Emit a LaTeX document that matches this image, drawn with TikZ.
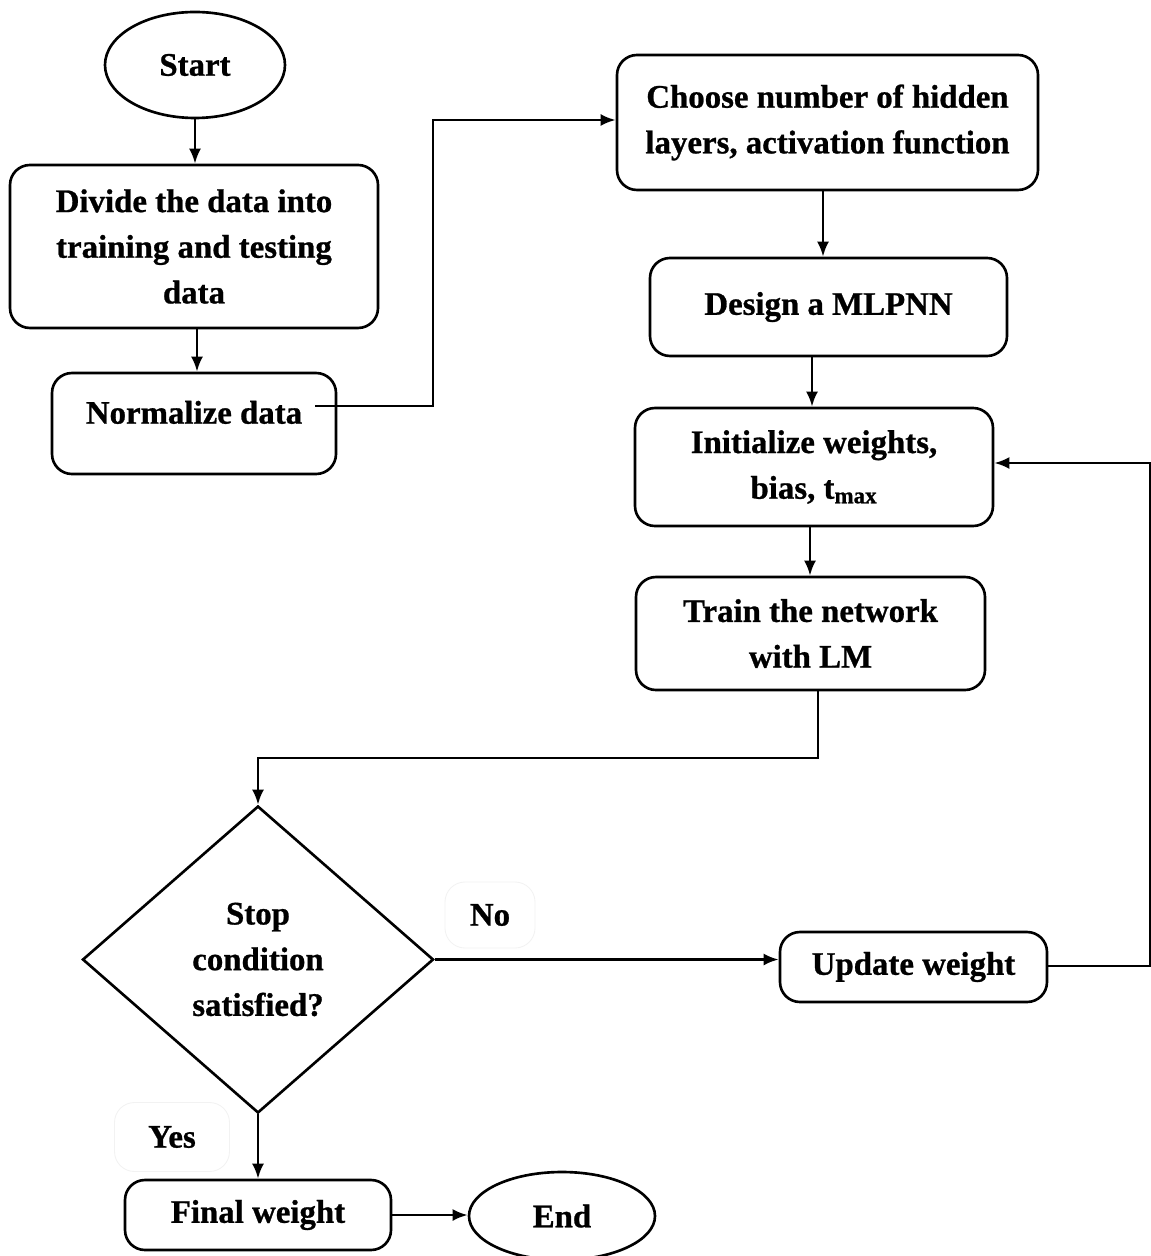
\documentclass[tikz,border=0pt]{standalone}
\usepackage{fontspec}
\setmainfont[BoldFeatures={FakeBold=0.8}]{Liberation Serif}
\usetikzlibrary{shapes.geometric,arrows.meta}
\begin{document}
\begin{tikzpicture}[x=0.02cm,y=-0.02cm,
  every node/.style={font=\fontsize{18.7}{26}\selectfont\bfseries, align=center, inner sep=0pt},
  box/.style={draw, line width=1.5pt, rounded corners=0.4cm},
  oval/.style={draw, line width=1.5pt, ellipse},
  dia/.style={draw, line width=1.5pt, diamond, aspect=1.14},
  lbl/.style={draw=black!5, line width=0.5pt, rounded corners=0.4cm},
  arr/.style={line width=1.5pt, -{Latex[length=0.3cm,width=0.24cm]}},
  ln/.style={line width=1.5pt}]
\useasboundingbox (0,0) rectangle (1151,1256);
\node[oval, minimum width=180*0.02cm, minimum height=106*0.02cm] (start) at (195,65) {Start};
\node[box, minimum width=368*0.02cm, minimum height=163*0.02cm] (divide) at (194,246.5) {Divide the data into\\training and testing\\data};
\node[box, minimum width=284*0.02cm, minimum height=101*0.02cm, text depth=0.45cm] (norm) at (194,423.5) {Normalize data};
\node[box, minimum width=421*0.02cm, minimum height=135*0.02cm] (choose) at (827.5,122.5) {Choose number of hidden\\layers, activation function};
\node[box, minimum width=357*0.02cm, minimum height=98*0.02cm] (design) at (828.5,307) {Design a MLPNN};
\node[box, minimum width=358*0.02cm, minimum height=118*0.02cm] (init) at (814,467) {Initialize weights,\\bias, t\textsubscript{max}};
\node[box, minimum width=349*0.02cm, minimum height=113*0.02cm] (train) at (810.5,633.5) {Train the network\\with LM};
\node[dia, minimum width=351*0.02cm, minimum height=307*0.02cm] (cond) at (258,959.5) {};
\node (condtext) at (258,959.5) {Stop\\condition\\satisfied?};
\node[box, minimum width=267*0.02cm, minimum height=70*0.02cm] (update) at (913.5,967) {Update weight};
\node[box, minimum width=266*0.02cm, minimum height=70*0.02cm] (final) at (258,1215) {Final weight};
\node[oval, minimum width=186*0.02cm, minimum height=88*0.02cm] (end) at (562,1216) {End};
\node[lbl, minimum width=90*0.02cm, minimum height=66*0.02cm] (no) at (490,915) {No};
\node[lbl, minimum width=115*0.02cm, minimum height=69*0.02cm] (yes) at (172,1137) {Yes};
\coordinate (nstart) at (315,406);
\coordinate (c1) at (433,406);
\coordinate (c2) at (433,120);
\coordinate (t1) at (818,758);
\coordinate (t2) at (258,758);
\coordinate (u1) at (1150,966);
\coordinate (u2) at (1150,463);
\draw[arr] (start.south) -- (divide.north -| start.south);
\draw[arr] (divide.south -| 197,0) -- (norm.north -| 197,0);
\draw[arr] (nstart) -- (c1) -- (c2) -- (c2 -| choose.west);
\draw[arr] (choose.south -| 823,0) -- (design.north -| 823,0);
\draw[arr] (design.south -| 812,0) -- (init.north -| 812,0);
\draw[arr] (init.south -| 810,0) -- (train.north -| 810,0);
\draw[arr] (train.south -| t1) -- (t1) -- (t2) -- (cond.north);
\draw[arr] (cond.east) -- (cond.east -| update.west);
\draw[arr] (update.east |- u1) -- (u1) -- (u2) -- (u2 -| init.east);
\draw[arr] (cond.south) -- (final.north -| cond.south);
\draw[arr] (final.east) -- (final.east -| end.west);
\end{tikzpicture}
\end{document}
